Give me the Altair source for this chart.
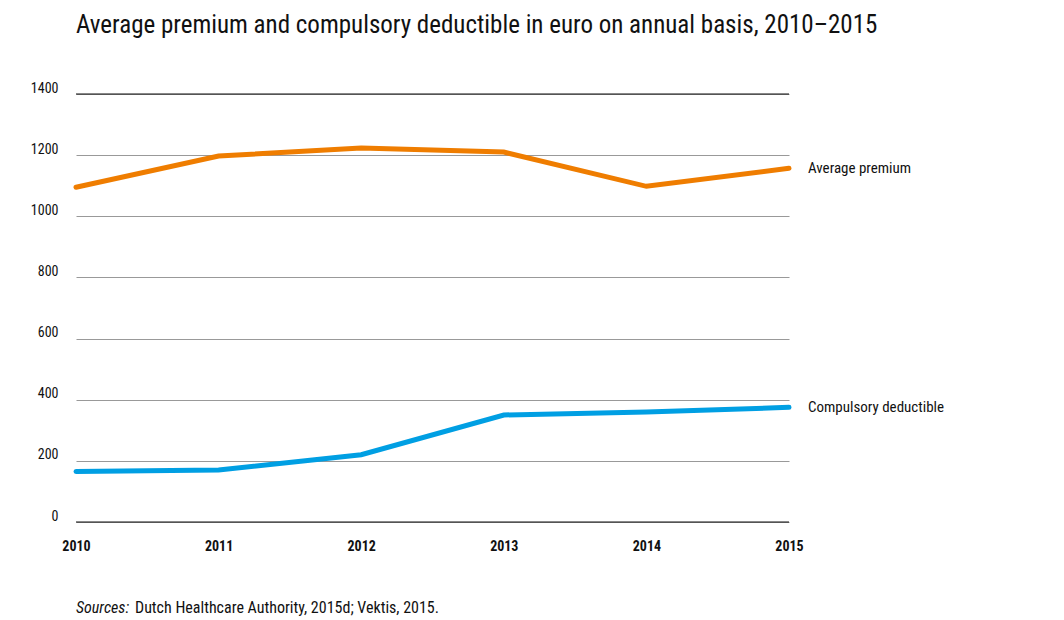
import altair as alt
import pandas as pd

years = ["2010", "2011", "2012", "2013", "2014", "2015"]
premium = [1095, 1197, 1223, 1210, 1098, 1157]
deductible = [165, 170, 220, 350, 360, 375]
series_names = ["Average premium", "Compulsory deductible"]
colors = ["#EF7D00", "#009FE3"]
y_ticks = [0, 200, 400, 600, 800, 1000, 1200, 1400]
frame_lines = [0, 1400]
title_text = "Average premium and compulsory deductible in euro on annual basis, 2010\u20132015"

rows = []
for y, v in zip(years, premium):
    rows.append({"year": y, "series": series_names[0], "value": v})
for y, v in zip(years, deductible):
    rows.append({"year": y, "series": series_names[1], "value": v})
df = pd.DataFrame(rows)

FONT = "Liberation Sans Narrow, Roboto Condensed, DejaVu Sans Condensed, sans-serif"

x_enc = alt.X("year:O", scale=alt.Scale(type="point", padding=0), sort=years,
              axis=alt.Axis(title=None, labelAngle=0, labelFontWeight="bold", labelFontSize=14,
                            labelColor="#111", labelPadding=17, domain=False, ticks=False,
                            labelFont=FONT))
y_scale = alt.Scale(domain=[0, 1400], nice=False)
color_scale = alt.Scale(domain=series_names, range=colors)

base = alt.Chart(df)

lines = base.mark_line(strokeWidth=5, strokeCap="round", strokeJoin="miter").encode(
    x=x_enc,
    y=alt.Y("value:Q", scale=y_scale,
            axis=alt.Axis(title=None, values=y_ticks, format="d", grid=True, gridColor="#999999",
                          gridWidth=1, domain=False, ticks=False, labelFontSize=14, labelColor="#111",
                          labelPadding=18, labelBaseline="alphabetic", labelOffset=-2,
                          labelFont=FONT)),
    color=alt.Color("series:N", scale=color_scale, legend=None),
)

rules = alt.Chart(pd.DataFrame({"v": frame_lines})).mark_rule(color="#111", strokeWidth=1.2).encode(
    y=alt.Y("v:Q", scale=y_scale)
)

end_labels = base.transform_filter(alt.datum.year == "2015").mark_text(
    align="left", baseline="middle", dx=19, fontSize=15, font=FONT, color="#111"
).encode(
    x=alt.X("year:O", scale=alt.Scale(type="point", padding=0), sort=years),
    y=alt.Y("value:Q", scale=y_scale),
    text="series:N",
)

title = alt.Chart(pd.DataFrame({"t": [title_text]})).mark_text(
    align="left", baseline="alphabetic", fontSize=25, font=FONT, color="#111"
).encode(x=alt.value(0), y=alt.value(-61), text="t:N")

src1 = alt.Chart(pd.DataFrame({"t": ["Sources:"]})).mark_text(
    align="left", baseline="alphabetic", fontSize=16, font=FONT, fontStyle="italic", color="#111"
).encode(x=alt.value(0), y=alt.value(519), text="t:N")

src2 = alt.Chart(pd.DataFrame({"t": ["Dutch Healthcare Authority, 2015d; Vektis, 2015."]})).mark_text(
    align="left", baseline="alphabetic", fontSize=16, font=FONT, color="#111"
).encode(x=alt.value(59), y=alt.value(519), text="t:N")

chart = alt.layer(rules, lines, end_labels, title, src1, src2).properties(
    width=713, height=428,
    background="white",
    autosize=alt.AutoSizeParams(type="none"),
    padding={"left": 68, "top": 86, "right": 200, "bottom": 100},
).configure_view(stroke=None)

chart.save("out.html", embed_options={"renderer": "svg", "actions": False})
